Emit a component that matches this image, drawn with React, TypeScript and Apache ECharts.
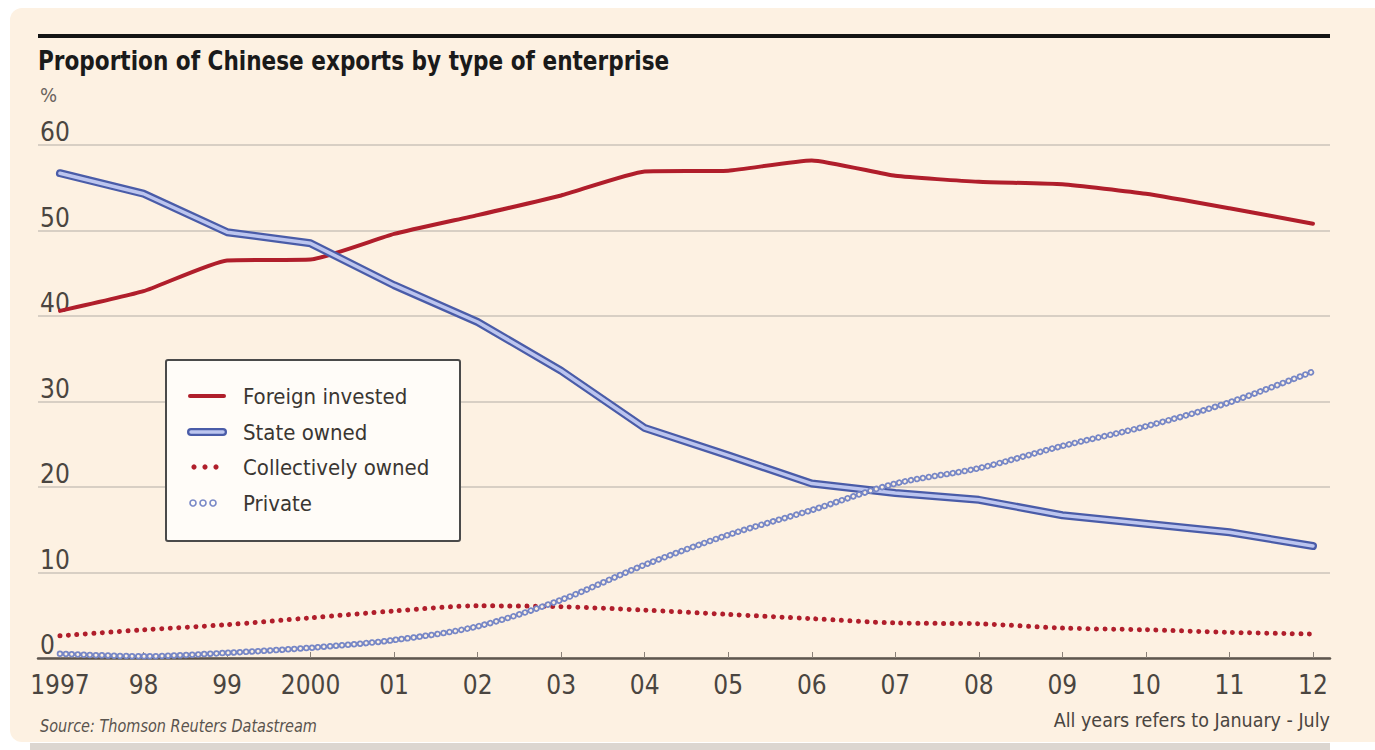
import React, { useEffect, useRef } from "react";
import * as echarts from "echarts";

const years = [1997, 1998, 1999, 2000, 2001, 2002, 2003, 2004, 2005, 2006, 2007, 2008, 2009, 2010, 2011, 2012];
const foreignInvested = [40.6, 42.9, 46.5, 46.6, 49.6, 51.8, 54.1, 56.9, 57.0, 58.2, 56.4, 55.7, 55.4, 54.3, 52.6, 50.8];
const stateOwned = [56.7, 54.3, 49.8, 48.5, 43.6, 39.3, 33.6, 26.9, 23.7, 20.4, 19.3, 18.5, 16.7, 15.7, 14.7, 13.1];
const collectivelyOwned = [2.6, 3.3, 3.9, 4.7, 5.5, 6.1, 6.0, 5.6, 5.1, 4.6, 4.1, 4.0, 3.5, 3.3, 3.0, 2.8];
const privateOwned = [0.5, 0.2, 0.6, 1.2, 2.1, 3.7, 6.8, 10.9, 14.4, 17.3, 20.4, 22.2, 24.8, 27.1, 29.9, 33.5];
const legendNames = ["Foreign invested", "State owned", "Collectively owned", "Private"];

const FONT = "'Liberation Sans Narrow', 'DejaVu Sans Condensed', 'Liberation Sans', sans-serif";
const BG = "#fdf1e2";
const RED = "#b01e2b";
const BLUE_DARK = "#4a5ca8";
const BLUE_LIGHT = "#bcc5ef";
const BLUE_RING = "#7787c6";

const pairs = (vals: number[]) => years.map((y, i) => [y, vals[i]]);

export default function App() {
  const ref = useRef<HTMLDivElement>(null);
  useEffect(() => {
    if (!ref.current) return;
    const chart = echarts.init(ref.current, null, { renderer: "svg" });
    const lx = 166, ly = 360;
    const rowY = [396, 432, 467, 503];
    chart.setOption({
      animation: false,
      backgroundColor: "#ffffff",
      grid: { left: 38, right: 45, top: 145, bottom: 92 },
      xAxis: {
        type: "value",
        min: 1996.737,
        max: 2012.204,
        splitLine: { show: false },
        axisLine: { show: true, lineStyle: { color: "#5e564e", width: 2.5 } },
        axisTick: { show: true, inside: true, length: 6, customValues: years, lineStyle: { color: "#8a8178", width: 1 } },
        axisLabel: {
          customValues: years,
          margin: 14,
          fontFamily: FONT,
          fontSize: 26,
          color: "#4a4540",
          formatter: (v: number) => (v === 1997 || v === 2000 ? String(v) : String(v % 100).padStart(2, "0")),
        },
      },
      yAxis: {
        type: "value",
        min: 0,
        max: 60,
        interval: 10,
        axisLine: { show: false },
        axisTick: { show: false },
        splitLine: { show: true, lineStyle: { color: "#d8cfc4", width: 2 } },
        axisLabel: {
          inside: true,
          margin: 2,
          verticalAlign: "bottom",
          padding: [0, 0, 0, 0],
          fontFamily: FONT,
          fontSize: 26,
          color: "#4a4540",
        },
      },
      series: [
        {
          name: legendNames[0], type: "line", data: pairs(foreignInvested), symbol: "none", smooth: 0.15, z: 3,
          lineStyle: { color: RED, width: 4, cap: "round", join: "round" },
        },
        {
          name: legendNames[1], type: "line", data: pairs(stateOwned), symbol: "none", z: 3,
          lineStyle: { color: BLUE_DARK, width: 8, cap: "round", join: "round" },
        },
        {
          name: legendNames[1] + " inner", type: "line", data: pairs(stateOwned), symbol: "none", z: 4,
          lineStyle: { color: BLUE_LIGHT, width: 3.5, cap: "round", join: "round" },
        },
        {
          name: legendNames[2], type: "line", data: pairs(collectivelyOwned), symbol: "none", smooth: 0.3, z: 5,
          lineStyle: { color: RED, width: 5, type: [0.01, 8.5], cap: "round" },
        },
        {
          name: legendNames[3], type: "line", data: pairs(privateOwned), symbol: "none", smooth: 0.3, z: 6,
          lineStyle: { color: BLUE_RING, width: 6.5, type: [0.01, 6], cap: "round" },
        },
        {
          name: legendNames[3] + " inner", type: "line", data: pairs(privateOwned), symbol: "none", smooth: 0.3, z: 7,
          lineStyle: { color: BG, width: 3, type: [0.01, 6], cap: "round" },
        },
      ],
      graphic: [
        { type: "rect", z: -10, shape: { x: 10, y: 8, width: 1400, height: 734, r: 12 }, style: { fill: BG } },
        { type: "rect", z: -10, shape: { x: 30, y: 743, width: 1300, height: 7 }, style: { fill: "#dcd6d0" } },
        { type: "rect", z: 10, shape: { x: 38, y: 34, width: 1292, height: 4 }, style: { fill: "#141414" } },
        {
          type: "text", z: 10, x: 38, y: 60, scaleX: 0.89,
          style: { text: "Proportion of Chinese exports by type of enterprise", fontFamily: FONT, fontWeight: "bold", fontSize: 27, fill: "#1a1a1a", verticalAlign: "middle" },
        },
        {
          type: "text", z: 10, x: 40, y: 95,
          style: { text: "%", fontFamily: FONT, fontSize: 20, fill: "#6a645e", verticalAlign: "middle" },
        },
        {
          type: "text", z: 10, x: 40, y: 726, scaleX: 0.92,
          style: { text: "Source: Thomson Reuters Datastream", fontFamily: FONT, fontStyle: "italic", fontSize: 17.5, fill: "#5a544e", verticalAlign: "middle" },
        },
        {
          type: "text", z: 10, x: 1330, y: 720,
          style: { text: "All years refers to January - July", fontFamily: FONT, fontSize: 19.5, fill: "#4a4540", align: "right", verticalAlign: "middle" },
        },
        {
          type: "group", z: 20,
          children: [
            { type: "rect", z: 20, shape: { x: lx, y: ly, width: 294, height: 181, r: 2 }, style: { fill: "#fffcf8", stroke: "#4a4a4a", lineWidth: 2 } },
            { type: "line", z: 21, shape: { x1: 190, y1: rowY[0], x2: 224, y2: rowY[0] }, style: { stroke: RED, lineWidth: 4, lineCap: "round" } },
            { type: "line", z: 21, shape: { x1: 191, y1: rowY[1], x2: 223, y2: rowY[1] }, style: { stroke: BLUE_DARK, lineWidth: 8, lineCap: "round" } },
            { type: "line", z: 22, shape: { x1: 191, y1: rowY[1], x2: 223, y2: rowY[1] }, style: { stroke: BLUE_LIGHT, lineWidth: 3.5, lineCap: "round" } },
            { type: "circle", z: 21, shape: { cx: 194, cy: rowY[2], r: 2.6 }, style: { fill: RED } },
            { type: "circle", z: 21, shape: { cx: 205, cy: rowY[2], r: 2.6 }, style: { fill: RED } },
            { type: "circle", z: 21, shape: { cx: 216, cy: rowY[2], r: 2.6 }, style: { fill: RED } },
            { type: "circle", z: 21, shape: { cx: 193, cy: rowY[3], r: 3 }, style: { fill: "none", stroke: BLUE_RING, lineWidth: 1.6 } },
            { type: "circle", z: 21, shape: { cx: 203, cy: rowY[3], r: 3 }, style: { fill: "none", stroke: BLUE_RING, lineWidth: 1.6 } },
            { type: "circle", z: 21, shape: { cx: 213, cy: rowY[3], r: 3 }, style: { fill: "none", stroke: BLUE_RING, lineWidth: 1.6 } },
            ...legendNames.map((n, i) => ({
              type: "text", z: 21, x: 243, y: rowY[i],
              style: { text: n, fontFamily: FONT, fontSize: 22, fill: "#3a3632", verticalAlign: "middle" },
            })),
          ],
        },
      ],
    });
    return () => chart.dispose();
  }, []);
  return <div ref={ref} style={{ position: "fixed", left: 0, top: 0, width: 1375, height: 750 }} />;
}
